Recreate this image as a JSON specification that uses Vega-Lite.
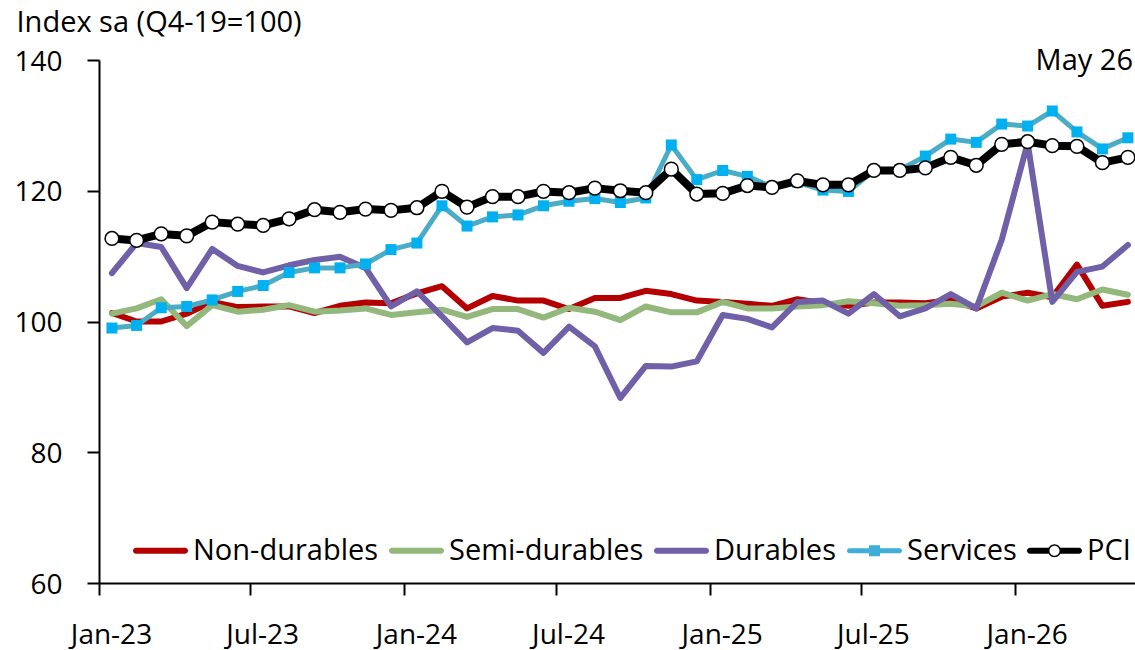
{
  "$schema": "https://vega.github.io/schema/vega-lite/v6.json",
  "width": 1036,
  "height": 523,
  "autosize": {"type": "none"},
  "padding": {"left": 99, "top": 60, "right": 0, "bottom": 67},
  "background": "white",
  "config": {"view": {"stroke": null}, "font": "Open Sans"},
  "title": {"text": "May 26", "anchor": "end", "frame": "group", "orient": "top", "offset": 0, "baseline": "alphabetic", "dy": 90, "dx": -2, "font": "Open Sans", "fontSize": 29, "fontWeight": "normal", "color": "#000000"},
  "data": {"values": [
    {"date": "2023-01-01", "Non-durables": 101.3, "Semi-durables": 101.2, "Durables": 107.4, "Services": 99.0, "PCI": 112.7},
    {"date": "2023-02-01", "Non-durables": 100.0, "Semi-durables": 102.0, "Durables": 112.0, "Services": 99.4, "PCI": 112.4},
    {"date": "2023-03-01", "Non-durables": 100.0, "Semi-durables": 103.4, "Durables": 111.4, "Services": 102.1, "PCI": 113.4},
    {"date": "2023-04-01", "Non-durables": 101.2, "Semi-durables": 99.3, "Durables": 105.1, "Services": 102.3, "PCI": 113.1},
    {"date": "2023-05-01", "Non-durables": 103.0, "Semi-durables": 102.5, "Durables": 111.1, "Services": 103.3, "PCI": 115.2},
    {"date": "2023-06-01", "Non-durables": 102.2, "Semi-durables": 101.5, "Durables": 108.5, "Services": 104.6, "PCI": 114.9},
    {"date": "2023-07-01", "Non-durables": 102.3, "Semi-durables": 101.8, "Durables": 107.5, "Services": 105.5, "PCI": 114.7},
    {"date": "2023-08-01", "Non-durables": 102.3, "Semi-durables": 102.5, "Durables": 108.6, "Services": 107.5, "PCI": 115.7},
    {"date": "2023-09-01", "Non-durables": 101.3, "Semi-durables": 101.5, "Durables": 109.4, "Services": 108.2, "PCI": 117.1},
    {"date": "2023-10-01", "Non-durables": 102.4, "Semi-durables": 101.7, "Durables": 109.9, "Services": 108.2, "PCI": 116.7},
    {"date": "2023-11-01", "Non-durables": 102.9, "Semi-durables": 102.0, "Durables": 108.2, "Services": 108.8, "PCI": 117.2},
    {"date": "2023-12-01", "Non-durables": 102.8, "Semi-durables": 101.0, "Durables": 102.3, "Services": 111.0, "PCI": 117.0},
    {"date": "2024-01-01", "Non-durables": 104.3, "Semi-durables": 101.4, "Durables": 104.6, "Services": 112.0, "PCI": 117.4},
    {"date": "2024-02-01", "Non-durables": 105.4, "Semi-durables": 101.8, "Durables": 100.8, "Services": 117.7, "PCI": 119.9},
    {"date": "2024-03-01", "Non-durables": 102.0, "Semi-durables": 100.7, "Durables": 96.8, "Services": 114.6, "PCI": 117.5},
    {"date": "2024-04-01", "Non-durables": 103.9, "Semi-durables": 101.9, "Durables": 99.0, "Services": 116.0, "PCI": 119.1},
    {"date": "2024-05-01", "Non-durables": 103.2, "Semi-durables": 101.9, "Durables": 98.6, "Services": 116.3, "PCI": 119.1},
    {"date": "2024-06-01", "Non-durables": 103.2, "Semi-durables": 100.6, "Durables": 95.2, "Services": 117.7, "PCI": 119.9},
    {"date": "2024-07-01", "Non-durables": 101.9, "Semi-durables": 102.1, "Durables": 99.2, "Services": 118.4, "PCI": 119.7},
    {"date": "2024-08-01", "Non-durables": 103.6, "Semi-durables": 101.5, "Durables": 96.2, "Services": 118.8, "PCI": 120.4},
    {"date": "2024-09-01", "Non-durables": 103.6, "Semi-durables": 100.2, "Durables": 88.3, "Services": 118.2, "PCI": 120.0},
    {"date": "2024-10-01", "Non-durables": 104.7, "Semi-durables": 102.3, "Durables": 93.2, "Services": 118.9, "PCI": 119.7},
    {"date": "2024-11-01", "Non-durables": 104.2, "Semi-durables": 101.4, "Durables": 93.1, "Services": 127.0, "PCI": 123.3},
    {"date": "2024-12-01", "Non-durables": 103.2, "Semi-durables": 101.4, "Durables": 93.9, "Services": 121.7, "PCI": 119.5},
    {"date": "2025-01-01", "Non-durables": 103.0, "Semi-durables": 103.0, "Durables": 101.0, "Services": 123.1, "PCI": 119.6},
    {"date": "2025-02-01", "Non-durables": 102.7, "Semi-durables": 102.0, "Durables": 100.4, "Services": 122.2, "PCI": 120.8},
    {"date": "2025-03-01", "Non-durables": 102.4, "Semi-durables": 102.0, "Durables": 99.1, "Services": 120.6, "PCI": 120.5},
    {"date": "2025-04-01", "Non-durables": 103.4, "Semi-durables": 102.3, "Durables": 103.0, "Services": 121.3, "PCI": 121.5},
    {"date": "2025-05-01", "Non-durables": 102.8, "Semi-durables": 102.5, "Durables": 103.2, "Services": 120.1, "PCI": 120.9},
    {"date": "2025-06-01", "Non-durables": 102.4, "Semi-durables": 103.1, "Durables": 101.2, "Services": 119.9, "PCI": 120.9},
    {"date": "2025-07-01", "Non-durables": 102.9, "Semi-durables": 102.8, "Durables": 104.2, "Services": 123.1, "PCI": 123.1},
    {"date": "2025-08-01", "Non-durables": 102.9, "Semi-durables": 102.4, "Durables": 100.8, "Services": 123.2, "PCI": 123.1},
    {"date": "2025-09-01", "Non-durables": 102.8, "Semi-durables": 102.5, "Durables": 102.0, "Services": 125.3, "PCI": 123.5},
    {"date": "2025-10-01", "Non-durables": 103.3, "Semi-durables": 102.7, "Durables": 104.2, "Services": 127.9, "PCI": 125.1},
    {"date": "2025-11-01", "Non-durables": 102.0, "Semi-durables": 102.3, "Durables": 102.0, "Services": 127.4, "PCI": 123.9},
    {"date": "2025-12-01", "Non-durables": 103.8, "Semi-durables": 104.4, "Durables": 112.5, "Services": 130.2, "PCI": 127.1},
    {"date": "2026-01-01", "Non-durables": 104.4, "Semi-durables": 103.2, "Durables": 127.3, "Services": 129.9, "PCI": 127.5},
    {"date": "2026-02-01", "Non-durables": 103.7, "Semi-durables": 104.2, "Durables": 103.0, "Services": 132.2, "PCI": 126.9},
    {"date": "2026-03-01", "Non-durables": 108.7, "Semi-durables": 103.4, "Durables": 107.6, "Services": 129.0, "PCI": 126.8},
    {"date": "2026-04-01", "Non-durables": 102.4, "Semi-durables": 104.9, "Durables": 108.4, "Services": 126.4, "PCI": 124.3},
    {"date": "2026-05-01", "Non-durables": 103.0, "Semi-durables": 104.1, "Durables": 111.7, "Services": 128.1, "PCI": 125.1}
  ]},
  "transform": [{"fold": ["Non-durables", "Semi-durables", "Durables", "Services", "PCI"], "as": ["series", "value"]}],
  "encoding": {
    "x": {
      "field": "date", "type": "temporal", "timeUnit": "utcyearmonth", "bandPosition": 0.5, "title": null,
      "scale": {"domain": [{"year": 2023, "month": 1, "date": 1, "utc": true}, {"year": 2026, "month": 5, "date": 25, "utc": true}], "nice": false},
      "axis": {
        "values": [
          {"year": 2023, "month": 1, "date": 1, "utc": true},
          {"year": 2023, "month": 7, "date": 1, "utc": true},
          {"year": 2024, "month": 1, "date": 1, "utc": true},
          {"year": 2024, "month": 7, "date": 1, "utc": true},
          {"year": 2025, "month": 1, "date": 1, "utc": true},
          {"year": 2025, "month": 7, "date": 1, "utc": true},
          {"year": 2026, "month": 1, "date": 1, "utc": true}
        ],
        "format": "%b-%y", "grid": false, "domainColor": "#000000", "domainWidth": 2,
        "tickColor": "#000000", "tickWidth": 2, "tickSize": 12,
        "labelFont": "Open Sans", "labelFontSize": 28, "labelColor": "#000000",
        "labelPadding": 48, "labelBaseline": "alphabetic", "labelOffset": 12,
        "labelFlush": false, "labelOverlap": false, "title": null
      }
    },
    "y": {
      "field": "value", "type": "quantitative",
      "scale": {"domain": [60, 140], "nice": false, "zero": false},
      "axis": {
        "values": [60, 80, 100, 120, 140], "grid": false, "domainColor": "#000000", "domainWidth": 2,
        "tickColor": "#000000", "tickWidth": 2, "tickSize": 12,
        "labelFont": "Open Sans", "labelFontSize": 28, "labelColor": "#000000",
        "labelPadding": 25, "labelBaseline": "alphabetic", "labelOffset": 10,
        "title": "Index sa (Q4-19=100)", "titleAngle": 0, "titleAlign": "left", "titleBaseline": "alphabetic",
        "titleX": -83, "titleY": -28.3, "titleFont": "Open Sans", "titleFontSize": 29,
        "titleFontWeight": "normal", "titleColor": "#000000"
      }
    }
  },
  "layer": [
    {
      "transform": [{"filter": {"field": "series", "oneOf": ["Non-durables", "Semi-durables", "Durables"]}}],
      "mark": {"type": "line", "strokeWidth": 6, "strokeJoin": "round", "strokeCap": "round"},
      "encoding": {
        "color": {
          "field": "series", "type": "nominal",
          "scale": {"domain": ["Non-durables", "Semi-durables", "Durables"], "range": ["#B40000", "#93B87C", "#6F60A8"]},
          "legend": null
        }
      }
    },
    {
      "transform": [{"filter": {"field": "series", "equal": "Services"}}],
      "mark": {"type": "line", "strokeWidth": 5, "strokeJoin": "round", "strokeCap": "round", "color": "#4BACC6"}
    },
    {
      "transform": [{"filter": {"field": "series", "equal": "Services"}}],
      "mark": {"type": "point", "shape": "square", "filled": true, "fill": "#00B0F0", "strokeWidth": 0, "opacity": 1, "size": 121}
    },
    {
      "transform": [{"filter": {"field": "series", "equal": "PCI"}}],
      "mark": {"type": "line", "strokeWidth": 8, "strokeJoin": "round", "strokeCap": "round", "color": "#000000"}
    },
    {
      "transform": [{"filter": {"field": "series", "equal": "PCI"}}],
      "mark": {"type": "point", "shape": "circle", "filled": true, "fill": "#ffffff", "stroke": "#000000", "strokeWidth": 1.5, "opacity": 1, "size": 189}
    },
    {
      "mark": {"type": "point", "filled": true, "opacity": 0, "strokeWidth": 0, "size": 10},
      "encoding": {
        "fill": {
          "field": "series", "type": "nominal",
          "scale": {"domain": ["Non-durables", "Semi-durables", "Durables", "Services", "PCI"], "range": ["#B40000", "#93B87C", "#6F60A8", "#3FAED8", "#000000"]},
          "legend": {
            "orient": "none", "legendX": 34, "legendY": 463, "direction": "horizontal", "title": null, "padding": 0,
            "symbolSize": 3025, "symbolStrokeWidth": 0, "symbolOpacity": 1, "symbolStrokeColor": "transparent",
            "labelFont": "Open Sans", "labelFontSize": 29, "labelColor": "#000000", "labelOffset": 5, "labelLimit": 400,
            "columnPadding": 10
          }
        },
        "shape": {
          "field": "series", "type": "nominal",
          "scale": {"domain": ["Non-durables", "Semi-durables", "Durables", "Services", "PCI"],
            "range": [
              "M-0.891,-0.109H0.891A0.109,0.109,0,0,1,0.891,0.109H-0.891A0.109,0.109,0,0,1,-0.891,-0.109Z",
              "M-0.891,-0.109H0.891A0.109,0.109,0,0,1,0.891,0.109H-0.891A0.109,0.109,0,0,1,-0.891,-0.109Z",
              "M-0.891,-0.109H0.891A0.109,0.109,0,0,1,0.891,0.109H-0.891A0.109,0.109,0,0,1,-0.891,-0.109Z",
              "M-0.909,-0.091H0.909A0.091,0.091,0,0,1,0.909,0.091H-0.909A0.091,0.091,0,0,1,-0.909,-0.091ZM-0.2,-0.2H0.2V0.2H-0.2Z",
              "M-0.891,-0.109H-0.2V0.109H-0.891A0.109,0.109,0,0,1,-0.891,-0.109ZM0.2,-0.109H0.891A0.109,0.109,0,0,1,0.891,0.109H0.2ZM-0.236,0A0.236,0.236,0,1,1,0.236,0A0.236,0.236,0,1,1,-0.236,0ZM-0.182,0A0.182,0.182,0,1,0,0.182,0A0.182,0.182,0,1,0,-0.182,0Z"
            ]},
          "legend": {
            "orient": "none", "legendX": 34, "legendY": 463, "direction": "horizontal", "title": null, "padding": 0,
            "symbolSize": 3025, "symbolStrokeWidth": 0, "symbolOpacity": 1, "symbolStrokeColor": "transparent",
            "labelFont": "Open Sans", "labelFontSize": 29, "labelColor": "#000000", "labelOffset": 5, "labelLimit": 400,
            "columnPadding": 10
          }
        }
      }
    }
  ]
}
